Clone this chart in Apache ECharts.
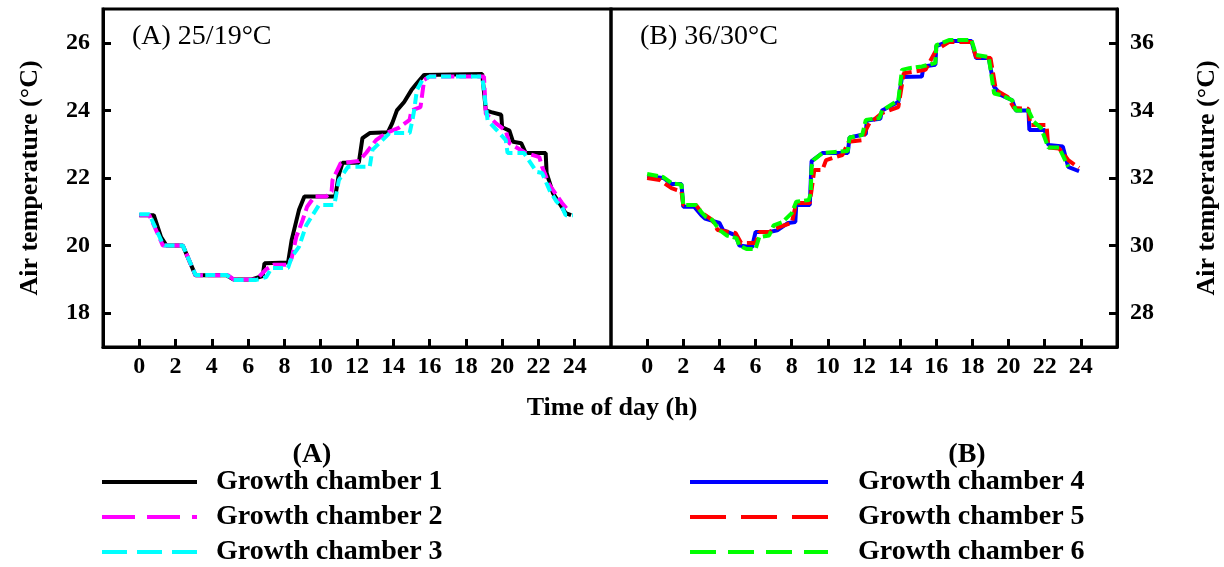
<!DOCTYPE html>
<html>
<head>
<meta charset="utf-8">
<title>Air temperature in growth chambers</title>
<script src="https://cdn.jsdelivr.net/npm/echarts@6/dist/echarts.min.js"></script>
<style>
  body { margin: 0; background: #fff; }
  #main { width: 1224px; height: 567px; }
</style>
</head>
<body>
<div id="main"></div>
<script>
// time of day (h), air temperature (°C)
var chamber1 = [[0,20.9],[0.8,20.9],[1.2,20.25],[1.5,20.0],[2.4,20.0],[3.1,19.12],[4.8,19.12],[5.2,19.0],[6.2,19.0],[6.8,19.1],[6.9,19.48],[8.2,19.5],[8.4,20.17],[8.8,21.05],[9.1,21.45],[10.8,21.45],[11.0,22.1],[11.2,22.45],[12.1,22.45],[12.3,23.18],[12.7,23.33],[13.7,23.35],[13.95,23.63],[14.2,24.0],[14.6,24.25],[15.0,24.6],[15.3,24.8],[15.7,25.05],[18.9,25.08],[19.1,24.0],[19.4,23.95],[19.95,23.87],[20.0,23.5],[20.4,23.4],[20.6,23.07],[21.05,23.03],[21.3,22.74],[22.4,22.74],[22.45,22.15],[22.8,21.55],[23.15,21.26],[23.5,20.96],[23.8,20.9]];
var chamber2 = [[0,20.9],[0.55,20.9],[1.0,20.37],[1.3,20.0],[2.4,20.0],[3.1,19.12],[4.9,19.12],[5.2,19.0],[6.45,19.0],[7.0,19.3],[7.4,19.43],[8.2,19.43],[8.4,19.63],[8.65,20.25],[9.0,20.75],[9.25,21.15],[9.65,21.45],[10.3,21.45],[10.6,21.6],[10.65,21.94],[11.1,22.44],[12.1,22.5],[12.5,22.74],[13.05,23.12],[13.6,23.33],[14.3,23.48],[14.9,23.72],[15.0,24.0],[15.5,24.1],[15.6,24.5],[15.7,24.9],[16.0,25.0],[19.0,25.0],[19.1,23.9],[19.7,23.6],[20.2,23.4],[20.4,23.03],[21.3,22.74],[22.05,22.62],[22.2,22.33],[22.6,21.8],[23.3,21.26],[23.7,21.0]];
var chamber3 = [[0,20.93],[0.55,20.93],[1.27,20.08],[1.4,20.0],[2.4,20.0],[3.1,19.13],[4.8,19.13],[5.2,18.98],[6.4,18.98],[7.0,19.07],[7.3,19.34],[8.2,19.34],[8.4,19.66],[8.8,19.96],[9.2,20.6],[9.55,20.9],[9.9,21.2],[10.75,21.2],[11.0,21.94],[11.5,22.33],[12.7,22.33],[12.85,22.83],[13.4,23.12],[13.8,23.33],[14.9,23.33],[15.05,23.7],[15.15,24.0],[15.3,24.6],[15.6,24.9],[16.0,25.0],[18.9,25.0],[19.2,23.7],[19.7,23.42],[20.2,23.12],[20.3,22.74],[21.2,22.74],[21.5,22.5],[21.9,22.18],[22.2,22.15],[22.6,21.65],[23.0,21.3],[23.3,21.14],[23.5,20.9],[23.9,20.9]];
var chamber4 = [[0,32.05],[0.9,32.0],[1.35,31.82],[1.9,31.82],[2.0,31.15],[2.6,31.15],[3.0,30.9],[3.2,30.8],[4.0,30.67],[4.2,30.46],[4.9,30.3],[5.1,30.0],[5.8,29.95],[6.0,30.4],[6.75,30.4],[7.2,30.45],[7.8,30.67],[8.2,30.7],[8.25,31.2],[9.0,31.2],[9.1,32.5],[9.7,32.74],[11.1,32.74],[11.2,33.2],[12.1,33.3],[12.15,33.7],[12.9,33.75],[13.0,34.0],[13.9,34.25],[14.1,34.99],[15.2,35.0],[15.3,35.3],[15.95,35.35],[16.0,35.9],[16.7,36.05],[17.95,36.05],[18.2,35.55],[18.9,35.55],[19.2,34.7],[19.6,34.45],[20.2,34.3],[20.4,34.0],[21.1,34.0],[21.15,33.42],[22.0,33.42],[22.2,32.98],[23.0,32.93],[23.3,32.33],[23.9,32.2]];
var chamber5 = [[0,32.0],[0.7,31.94],[1.35,31.7],[1.65,31.64],[1.9,31.6],[2.0,31.2],[2.7,31.2],[3.05,30.96],[3.6,30.76],[3.9,30.46],[4.9,30.37],[5.2,30.08],[6.0,30.08],[6.2,30.4],[6.75,30.4],[7.3,30.55],[8.0,30.67],[8.25,31.26],[9.0,31.26],[9.25,32.24],[9.7,32.24],[9.9,32.53],[10.8,32.68],[11.15,33.07],[11.9,33.12],[12.1,33.42],[12.3,33.62],[13.0,33.92],[13.9,34.1],[14.2,35.1],[15.4,35.2],[16.0,35.79],[16.7,36.02],[17.95,36.02],[18.2,35.58],[19.0,35.55],[19.3,34.6],[19.95,34.4],[20.3,34.07],[21.1,34.05],[21.2,33.57],[22.1,33.57],[22.2,32.9],[22.8,32.87],[23.3,32.53],[23.9,32.3]];
var chamber6 = [[0,32.12],[0.87,32.03],[1.35,31.85],[1.9,31.8],[2.0,31.2],[2.7,31.2],[3.05,30.96],[3.25,30.85],[3.6,30.76],[4.0,30.46],[4.4,30.3],[4.95,30.22],[5.1,30.0],[5.5,29.9],[6.0,29.9],[6.2,30.25],[6.75,30.3],[7.0,30.6],[7.5,30.7],[8.0,30.96],[8.25,31.3],[8.95,31.35],[9.05,31.55],[9.1,32.33],[9.2,32.53],[9.7,32.74],[10.4,32.77],[11.1,32.8],[11.2,33.2],[11.9,33.27],[12.1,33.72],[12.85,33.77],[13.0,34.0],[13.9,34.3],[14.1,35.2],[14.5,35.25],[15.2,35.3],[15.95,35.4],[16.0,35.93],[16.7,36.08],[17.95,36.08],[18.2,35.64],[18.9,35.58],[19.2,34.5],[19.6,34.45],[20.2,34.3],[20.4,34.0],[21.1,34.0],[21.4,33.66],[21.8,33.48],[22.2,32.9],[22.8,32.9],[23.3,32.33]];

var namesA = ["Growth chamber 1", "Growth chamber 2", "Growth chamber 3"];
var namesB = ["Growth chamber 4", "Growth chamber 5", "Growth chamber 6"];
var panelLabels = ["(A) 25/19°C", "(B) 36/30°C"];
var xTicks = [0, 2, 4, 6, 8, 10, 12, 14, 16, 18, 20, 22, 24];
var yTicksA = [18, 20, 22, 24, 26];
var yTicksB = [28, 30, 32, 34, 36];

var serif = "'Times New Roman', 'Liberation Serif', serif";
var tickStyle = { show: true, inside: true, length: 8, lineStyle: { color: "#000", width: 3 } };

function xAxisOf(idx) {
  return {
    type: "value",
    gridIndex: idx,
    min: -2,
    max: 26,
    interval: 2,
    z: 5,
    axisLine: { show: true, onZero: false, lineStyle: { color: "#000", width: 3 } },
    axisTick: Object.assign({ customValues: xTicks }, tickStyle),
    axisLabel: {
      margin: 8,
      color: "#000",
      fontFamily: serif,
      fontWeight: "bold",
      fontSize: 24,
      formatter: function (v) { return xTicks.indexOf(v) >= 0 ? String(v) : ""; },
    },
    splitLine: { show: false },
  };
}

function yAxisOf(idx, lo, hi, ticks, pos) {
  return {
    type: "value",
    gridIndex: idx,
    position: pos,
    min: lo,
    max: hi,
    splitNumber: 5,
    z: 5,
    name: "Air temperature (°C)",
    nameLocation: "middle",
    nameRotate: 90,
    nameGap: pos === "left" ? 60 : 77,
    nameTextStyle: { color: "#000", fontFamily: serif, fontWeight: "bold", fontSize: 26 },
    axisLine: { show: true, onZero: false, lineStyle: { color: "#000", width: 3 } },
    axisTick: Object.assign({ customValues: ticks }, tickStyle),
    axisLabel: {
      margin: 13,
      color: "#000",
      fontFamily: serif,
      fontWeight: "bold",
      fontSize: 24,
      formatter: function (v) { return ticks.indexOf(v) >= 0 ? String(v) : ""; },
    },
    splitLine: { show: false },
  };
}

function lineOf(name, data, idx, color, dash) {
  return {
    name: name,
    type: "line",
    xAxisIndex: idx,
    yAxisIndex: idx,
    data: data,
    symbol: "none",
    animation: false,
    lineStyle: { color: color, width: 4, type: dash },
    itemStyle: { color: color },
  };
}

var legendText = { color: "#000", fontFamily: serif, fontWeight: "bold", fontSize: 28, lineHeight: 28 };

function legendOf(left, names, pad, dashes) {
  return {
    orient: "vertical",
    left: left,
    top: 468,
    padding: 0,
    itemWidth: left < 600 ? 95 : 138,
    itemHeight: 14,
    itemGap: 7,
    itemStyle: { opacity: 0 },
    lineStyle: { width: 4 },
    textStyle: Object.assign({ padding: [0, 0, 0, pad] }, legendText),
    data: names.map(function (n, i) {
      return { name: n, lineStyle: { width: 4, type: dashes[i] } };
    }),
  };
}

var option = {
  backgroundColor: "#fff",
  animation: false,
  grid: [
    { left: 103, top: 9, width: 508, height: 338, show: true, borderColor: "#000", borderWidth: 3, z: 0 },
    { left: 611, top: 9, width: 506, height: 338, show: true, borderColor: "#000", borderWidth: 3, z: 0 },
  ],
  xAxis: [xAxisOf(0), xAxisOf(1)],
  yAxis: [
    yAxisOf(0, 17, 27, yTicksA, "left"),
    yAxisOf(1, 27, 37, yTicksB, "right"),
  ],
  legend: [
    legendOf(100, namesA, 14, ["solid", [33, 12], [25, 10]]),
    legendOf(688, namesB, 25, ["solid", [36, 15], [26, 12]]),
  ],
  graphic: [
    { type: "text", x: 132, y: 37, style: { text: panelLabels[0], font: "28px " + serif, fill: "#000", textVerticalAlign: "middle" } },
    { type: "text", x: 640, y: 37, style: { text: panelLabels[1], font: "28px " + serif, fill: "#000", textVerticalAlign: "middle" } },
    { type: "text", x: 612, y: 408, style: { text: "Time of day (h)", font: "bold 26px " + serif, fill: "#000", textAlign: "center", textVerticalAlign: "middle" } },
    { type: "text", x: 312, y: 455, style: { text: "(A)", font: "bold 28px " + serif, fill: "#000", textAlign: "center", textVerticalAlign: "middle" } },
    { type: "text", x: 967, y: 455, style: { text: "(B)", font: "bold 28px " + serif, fill: "#000", textAlign: "center", textVerticalAlign: "middle" } },
  ],
  series: [
    lineOf(namesA[0], chamber1, 0, "#000000", "solid"),
    lineOf(namesA[1], chamber2, 0, "#ff00ff", [13, 5]),
    lineOf(namesA[2], chamber3, 0, "#00ffff", [10, 5]),
    lineOf(namesB[0], chamber4, 1, "#0000ff", "solid"),
    lineOf(namesB[1], chamber5, 1, "#ff0000", [14, 5]),
    lineOf(namesB[2], chamber6, 1, "#00ff00", [11, 4]),
  ],
};

var myChart = echarts.init(document.getElementById("main"));
myChart.setOption(option);
</script>
</body>
</html>
